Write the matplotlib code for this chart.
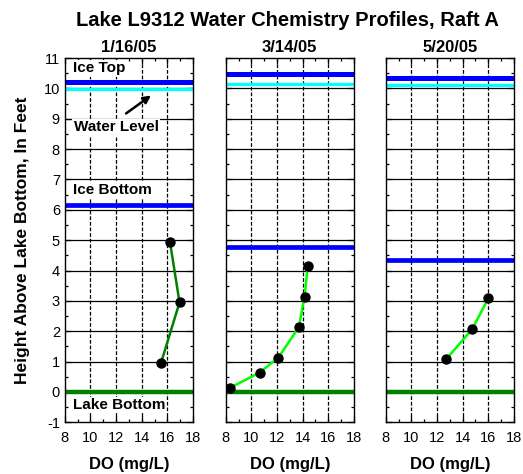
import matplotlib
matplotlib.use("Agg")
import matplotlib.pyplot as plt
from matplotlib.ticker import MultipleLocator

plt.rcParams['font.family'] = ['Liberation Sans', 'DejaVu Sans']
plt.rcParams['axes.unicode_minus'] = False

# sampling dates
dates = ["1/16/05", "3/14/05", "5/20/05"]

# dissolved oxygen profiles (mg/L) and heights above lake bottom (ft)
do_values = [
    [15.5, 16.95, 16.2],
    [8.3, 10.65, 12.1, 13.7, 14.15, 14.4],
    [12.7, 14.75, 16.0],
]
heights = [
    [0.95, 2.95, 4.95],
    [0.13, 0.64, 1.13, 2.13, 3.14, 4.14],
    [1.07, 2.07, 3.08],
]

# reference levels (ft)
ice_top = [10.2, 10.46, 10.33]
water_level = [9.97, 10.15, 10.1]
ice_bottom = [6.15, 4.78, 4.35]
lake_bottom = 0.0

line_colors = ['#008000', '#00ff00', '#00ff00']

fig = plt.figure(figsize=(5.23, 4.74), dpi=100)
lefts = [0.124, 0.4316, 0.7375]
width = 0.245
bottom, top = 0.109, 0.8776

axes = []
for i, date in enumerate(dates):
    ax = fig.add_axes([lefts[i], bottom, width, top - bottom])
    axes.append(ax)
    ax.set_xlim(8, 18)
    ax.set_ylim(-1, 11)

    # grid: solid horizontal, dashed vertical
    for yv in range(0, 11):
        ax.axhline(yv, color='black', lw=0.9, zorder=1)
    for xv in (10, 12, 14, 16):
        ax.axvline(xv, color='black', lw=0.9, ls=(0, (3, 1.5)), zorder=1)

    # levels
    ax.axhline(ice_top[i], color='#0000ff', lw=3.6, zorder=2)
    ax.axhline(water_level[i], color='#00ffff', lw=2.4, zorder=2)
    ax.axhline(ice_bottom[i], color='#0000ff', lw=3.4, zorder=2)
    ax.axhline(lake_bottom, color='#008000', lw=3.2, zorder=2)

    # profile
    ax.plot(do_values[i], heights[i], color=line_colors[i], lw=1.8,
            marker='o', markersize=6.5, markerfacecolor='black',
            markeredgecolor='black', zorder=4)

    ax.xaxis.set_major_locator(MultipleLocator(2))
    ax.xaxis.set_minor_locator(MultipleLocator(1))
    ax.yaxis.set_major_locator(MultipleLocator(1))
    ax.yaxis.set_minor_locator(MultipleLocator(0.5))
    ax.tick_params(which='both', direction='in', top=True, right=True,
                   labelsize=10.5, width=0.9)
    ax.tick_params(which='major', length=4)
    ax.tick_params(which='minor', length=2.5)
    ax.tick_params(axis='x', pad=6)
    if i > 0:
        ax.tick_params(labelleft=False)
    for sp in ax.spines.values():
        sp.set_linewidth(1.0)

    ax.set_title(date, fontsize=12, fontweight='bold', pad=4)
    ax.set_xlabel("DO (mg/L)", fontsize=12, fontweight='bold', labelpad=9)

ax0 = axes[0]
ax0.set_ylabel("Height Above Lake Bottom, In Feet", fontsize=12.5,
               fontweight='bold', labelpad=10)
box = dict(facecolor='white', edgecolor='none', pad=1)
ax0.text(8.6, 10.66, "Ice Top", fontsize=11, fontweight='bold',
         va='center', ha='left', bbox=box, zorder=5)
ax0.text(8.7, 8.72, "Water Level", fontsize=11, fontweight='bold',
         va='center', ha='left', bbox=box, zorder=5)
ax0.text(8.6, 6.64, "Ice Bottom", fontsize=11, fontweight='bold',
         va='center', ha='left', bbox=box, zorder=5)
ax0.text(8.6, -0.43, "Lake Bottom", fontsize=11, fontweight='bold',
         va='center', ha='left', bbox=box, zorder=5)
ax0.annotate("", xy=(14.9, 9.82), xytext=(12.6, 9.12),
             arrowprops=dict(arrowstyle='-|>', color='black', lw=1.8,
                             mutation_scale=11), zorder=5)

fig.text(0.55, 0.957, "Lake L9312 Water Chemistry Profiles, Raft A",
         fontsize=14.5, fontweight='bold', ha='center', va='center')

fig.savefig("out.png", dpi=100)
